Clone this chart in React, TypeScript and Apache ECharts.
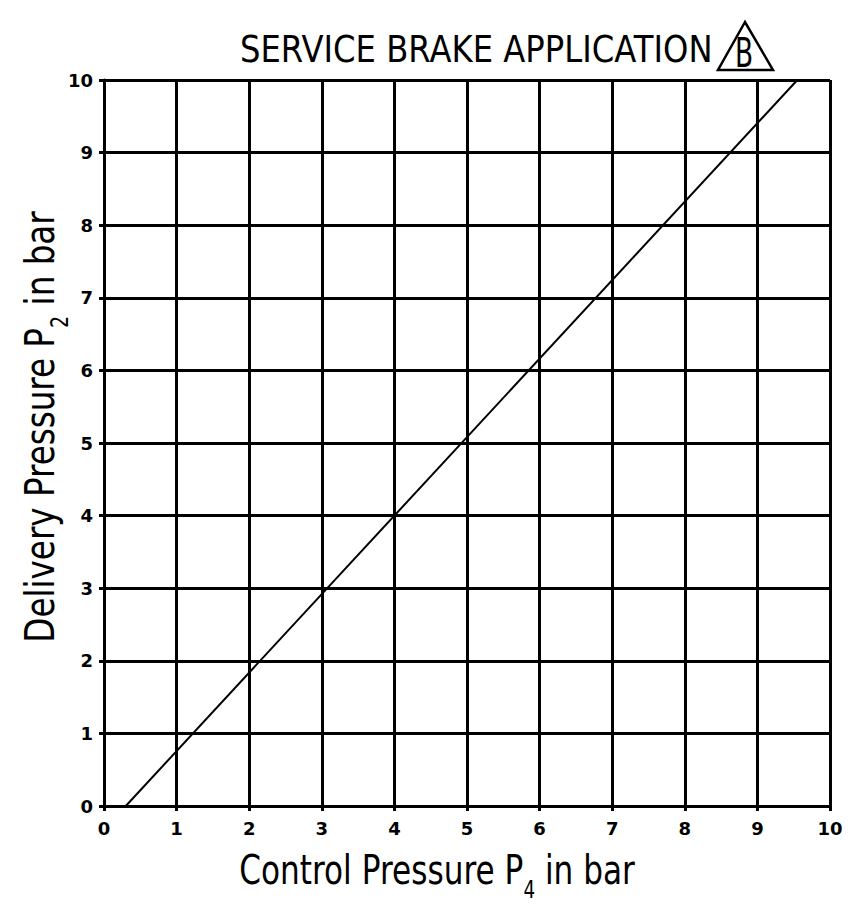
import React, { useEffect, useRef } from "react";
import * as echarts from "echarts";

const xTicks = [0, 1, 2, 3, 4, 5, 6, 7, 8, 9, 10];
const yTicks = [0, 1, 2, 3, 4, 5, 6, 7, 8, 9, 10];
const lineX = [0.3, 9.55];
const lineY = [0, 10];
const titleText = "SERVICE BRAKE APPLICATION";
const badgeText = "B";
const xName = "Control Pressure P{sub|4} in bar";
const yName = "Delivery Pressure P{sub|2} in bar";

const FONT = "'DejaVu Sans', sans-serif";

export default function App() {
  const ref = useRef<HTMLDivElement>(null);
  useEffect(() => {
    document.body.style.margin = "0";
    const chart = echarts.init(ref.current!, null, { renderer: "svg" });
    const axisCommon = {
      type: "value" as const,
      min: 0,
      max: 10,
      interval: 1,
      axisLine: { show: true, lineStyle: { color: "#000", width: 3 } },
      axisTick: { show: true, length: 5, inside: false, lineStyle: { color: "#000", width: 3 } },
      splitLine: { show: true, lineStyle: { color: "#000", width: 3 } },
      axisLabel: { color: "#000", fontSize: 18, fontWeight: "bold" as const, fontFamily: FONT },
    };
    const nameRich = {
      sub: { fontSize: 24, fontFamily: FONT, fill: "#000", padding: [40, 0, 0, 0] },
    };
    chart.setOption({
      animation: false,
      backgroundColor: "#fff",
      grid: { left: 104, top: 80, width: 726, height: 726, containLabel: false },
      xAxis: {
        ...axisCommon,
        axisLabel: { ...axisCommon.axisLabel, margin: 13, formatter: (v: number) => (xTicks.includes(v) ? String(v) : "") },
      },
      yAxis: {
        ...axisCommon,
        axisLabel: { ...axisCommon.axisLabel, margin: 11, formatter: (v: number) => (yTicks.includes(v) ? String(v) : "") },
      },
      series: [
        {
          type: "line",
          data: lineX.map((x, i) => [x, lineY[i]]),
          symbol: "none",
          lineStyle: { color: "#000", width: 2 },
          z: 5,
        },
      ],
      graphic: [
        {
          type: "text",
          x: 240,
          y: 49,
          scaleX: 0.849,
          style: { text: titleText, fontSize: 38, fontFamily: FONT, fill: "#000", align: "left", verticalAlign: "middle" },
        },
        {
          type: "polygon",
          shape: { points: [[745, 22], [718, 70], [773, 70]] },
          style: { fill: "none", stroke: "#000", lineWidth: 2.5 },
        },
        {
          type: "text",
          x: 744,
          y: 53,
          scaleX: 0.66,
          style: { text: badgeText, fontSize: 40, fontFamily: FONT, fill: "#000", align: "center", verticalAlign: "middle" },
        },
        {
          type: "text",
          x: 437,
          y: 870,
          scaleX: 0.76,
          style: { text: xName, fontSize: 41, fontFamily: FONT, fill: "#000", align: "center", verticalAlign: "middle", rich: nameRich },
        },
        {
          type: "text",
          x: 40,
          y: 427,
          rotation: Math.PI / 2,
          scaleX: 0.795,
          style: { text: yName, fontSize: 41, fontFamily: FONT, fill: "#000", align: "center", verticalAlign: "middle", rich: nameRich },
        },
      ],
    });
    return () => chart.dispose();
  }, []);
  return <div ref={ref} style={{ width: 860, height: 922 }} />;
}
